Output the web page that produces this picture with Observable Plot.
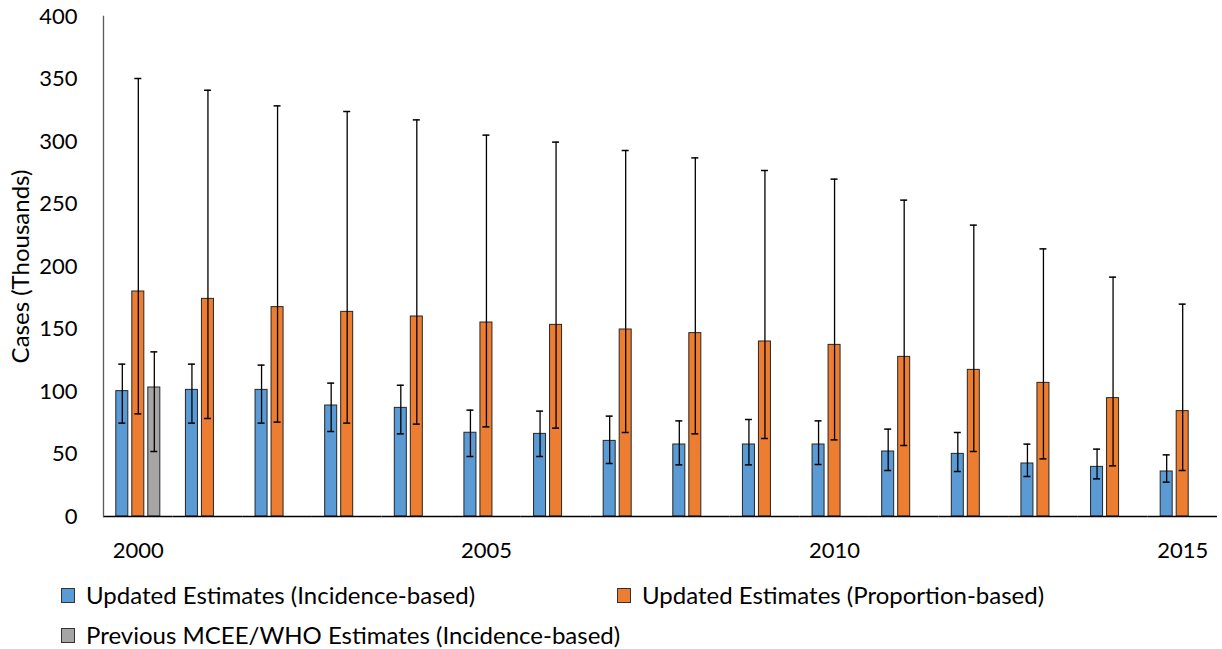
<!DOCTYPE html>
<html>
<head>
<meta charset="utf-8">
<script src="https://cdn.jsdelivr.net/npm/d3@7"></script>
<script src="https://cdn.jsdelivr.net/npm/@observablehq/plot@0.6"></script>
<style>
  html, body { margin: 0; padding: 0; background: #fff; }
  body { width: 1222px; height: 649px; overflow: hidden; font-family: Lato, sans-serif; }
  #chart svg { display: block; }
  #legend { margin-top: 5px; font-family: Lato, sans-serif; font-size: 24px; line-height: 1; color: #000; }
  .row { height: 40px; display: flex; align-items: center; padding-left: 61px; }
  .item { display: flex; align-items: center; }
  .sw { width: 12px; height: 13px; border: 1px solid #333; margin-right: 11px; box-sizing: content-box; }
</style>
</head>
<body>
<div id="chart"></div>
<div id="legend"></div>
<script>
const years = [2000, 2001, 2002, 2003, 2004, 2005, 2006, 2007, 2008, 2009, 2010, 2011, 2012, 2013, 2014, 2015];
const seriesKeys = ["inc", "prop", "prev"];
const seriesNames = ["Updated Estimates (Incidence-based)", "Updated Estimates (Proportion-based)", "Previous MCEE/WHO Estimates (Incidence-based)"];
const seriesColors = ["#5B9BD5", "#ED7D31", "#A5A5A5"];

const incValue = [100.3, 101.3, 101.3, 88.8, 86.9, 67.0, 66.1, 60.5, 57.6, 57.6, 57.6, 52.0, 50.1, 42.4, 39.7, 36.0];
const incHigh  = [121.9, 121.9, 121.1, 106.7, 105.0, 85.1, 84.3, 80.3, 76.5, 77.6, 76.5, 69.9, 67.2, 57.9, 53.9, 49.3];
const incLow   = [74.7, 74.7, 74.7, 68.0, 66.1, 48.0, 48.0, 42.4, 41.3, 41.3, 41.6, 36.8, 36.0, 32.0, 30.1, 27.5];

const propValue = [180.0, 174.1, 167.5, 163.7, 160.0, 155.2, 153.3, 149.6, 146.7, 140.0, 137.3, 127.7, 117.3, 106.9, 94.7, 84.3];
const propHigh  = [350.4, 341.0, 328.5, 324.0, 317.3, 305.1, 299.5, 292.8, 286.9, 276.8, 269.9, 253.1, 233.1, 214.1, 191.5, 169.9];
const propLow   = [82.1, 78.4, 75.5, 74.7, 73.9, 71.7, 70.7, 67.2, 66.1, 62.4, 61.3, 56.8, 52.0, 46.1, 40.5, 36.8];

const prevYears = [2000];
const prevValue = [103.2];
const prevHigh  = [131.7];
const prevLow   = [52.0];

const yTicks = [0, 50, 100, 150, 200, 250, 300, 350, 400];
const xTicks = [2000, 2005, 2010, 2015];
const yLabel = "Cases (Thousands)";

const rows = [];
years.forEach((yr, i) => {
  rows.push({year: yr, series: "inc", value: incValue[i], low: incLow[i], high: incHigh[i]});
  rows.push({year: yr, series: "prop", value: propValue[i], low: propLow[i], high: propHigh[i]});
});
prevYears.forEach((yr, i) => {
  rows.push({year: yr, series: "prev", value: prevValue[i], low: prevLow[i], high: prevHigh[i]});
});

const chart = Plot.plot({
  width: 1222,
  height: 570,
  marginTop: 16,
  marginBottom: 54,
  marginLeft: 103,
  marginRight: 5,
  style: {fontFamily: "Lato, sans-serif", fontSize: "22px", color: "#000", background: "#fff"},
  fx: {domain: years, padding: 0, round: false},
  x: {domain: seriesKeys, paddingInner: 0.25, paddingOuter: 0.8, round: false, axis: null},
  y: {domain: [0, 400]},
  color: {domain: seriesKeys, range: seriesColors},
  marks: [
    Plot.barY(rows, {fx: "year", x: "series", y: "value", fill: "series", stroke: "#262626", strokeWidth: 1}),
    Plot.ruleX(rows, {fx: "year", x: "series", y1: "low", y2: "high", stroke: "#000", strokeWidth: 1.3}),
    Plot.tickY(rows, {fx: "year", x: "series", y: "low", stroke: "#000", strokeWidth: 1.5, inset: 2.5}),
    Plot.tickY(rows, {fx: "year", x: "series", y: "high", stroke: "#000", strokeWidth: 1.5, inset: 2.5}),
    Plot.ruleY([0], {stroke: "#000", strokeWidth: 1.3}),
    Plot.frame({anchor: "left", facet: "super", stroke: "#595959", strokeWidth: 1.3}),
    Plot.axisY({ticks: yTicks, tickSize: 0, tickPadding: 26, fontSize: 22, label: null}),
    Plot.axisY({ticks: [], tickSize: 0, label: yLabel, labelAnchor: "center", labelOffset: 92, labelArrow: "none", fontSize: 24}),
    Plot.axisFx({anchor: "bottom", ticks: xTicks, tickFormat: "d", tickSize: 0, tickPadding: 26, fontSize: 22, label: null})
  ]
});
document.getElementById("chart").appendChild(chart);

// HTML legend
const legend = document.getElementById("legend");
const layout = [[0, 1], [2]];
layout.forEach(r => {
  const row = document.createElement("div");
  row.className = "row";
  r.forEach((k, j) => {
    const it = document.createElement("div");
    it.className = "item";
    if (j === 0 && r.length > 1) it.style.width = "556px";
    const sw = document.createElement("span");
    sw.className = "sw";
    sw.style.background = seriesColors[k];
    const tx = document.createElement("span");
    tx.textContent = seriesNames[k];
    it.appendChild(sw); it.appendChild(tx);
    row.appendChild(it);
  });
  legend.appendChild(row);
});
</script>
</body>
</html>
